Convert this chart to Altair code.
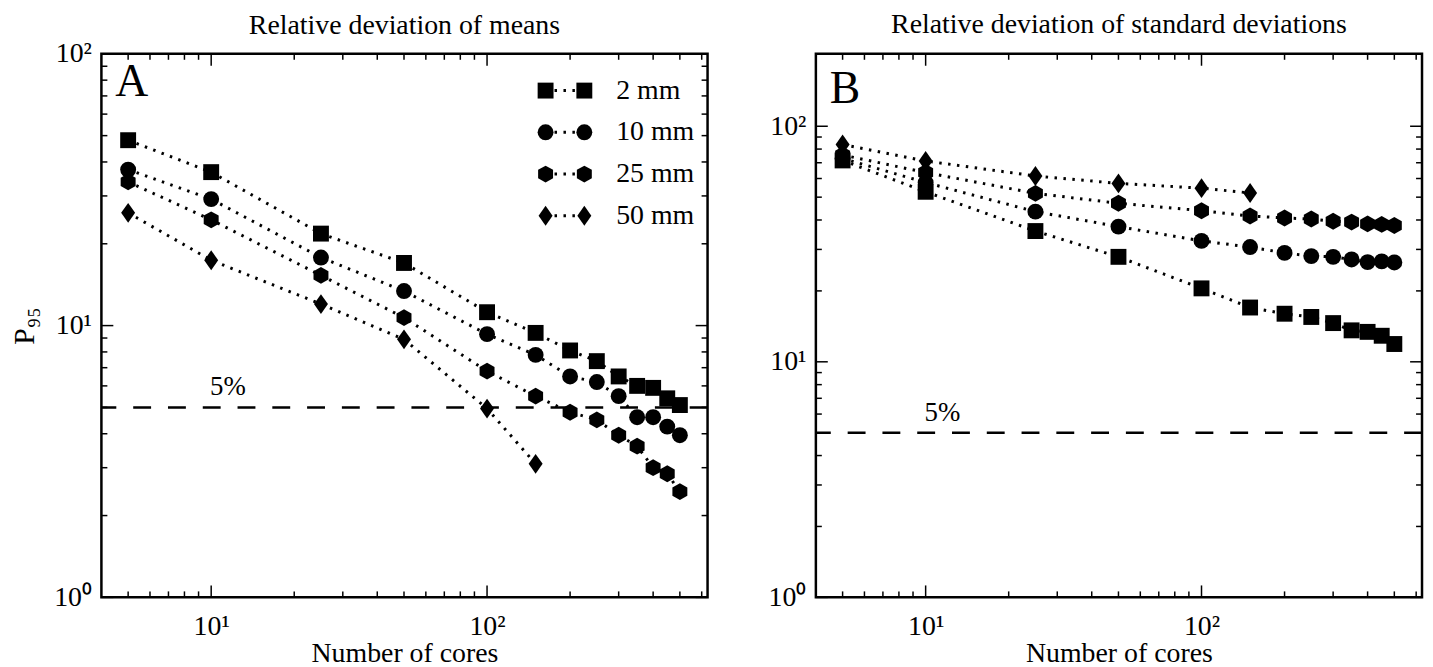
import altair as alt
import pandas as pd

# ---------------- data ----------------
cores = [5, 10, 25, 50, 100, 150, 200, 250, 300, 350, 400, 450, 500]
series = ["2 mm", "10 mm", "25 mm", "50 mm"]

# Panel A: relative deviation of means (P95)
mean_2mm = [48.1, 36.7, 21.8, 17.0, 11.2, 9.4, 8.1, 7.4, 6.5, 6.0, 5.9, 5.4, 5.1]
mean_10mm = [37.5, 29.2, 17.8, 13.4, 9.3, 7.8, 6.5, 6.2, 5.5, 4.6, 4.6, 4.25, 3.95]
mean_25mm = [33.8, 24.5, 15.3, 10.7, 6.8, 5.5, 4.8, 4.5, 3.95, 3.6, 3.0, 2.85, 2.45]
mean_50mm = [26.0, 17.4, 12.0, 8.9, 4.95, 3.1]

# Panel B: relative deviation of standard deviations (P95)
std_2mm = [71.6, 52.7, 35.9, 27.9, 20.5, 17.0, 16.0, 15.5, 14.6, 13.6, 13.4, 12.9, 11.9]
std_10mm = [73.0, 57.7, 43.4, 37.5, 32.6, 30.7, 29.0, 28.1, 27.9, 27.2, 26.5, 26.7, 26.4]
std_25mm = [75.5, 63.6, 51.9, 47.1, 43.8, 41.6, 40.8, 40.4, 39.5, 39.2, 38.5, 38.3, 37.9]
std_50mm = [83.7, 71.2, 61.5, 57.2, 54.6, 52.1]

threshold = [5]
threshold_label = ["5%"]
threshold_label_x = [11.5]

x_major = [10, 100]
x_minor = [5, 6, 7, 8, 9, 20, 30, 40, 50, 60, 70, 80, 90, 200, 300, 400, 500, 600]
y_major = [1, 10, 100]
y_minor = [2, 3, 4, 5, 6, 7, 8, 9, 20, 30, 40, 50, 60, 70, 80, 90]

x_domain = [4, 630]
yA_domain = [1, 100]
yB_domain = [1, 203]

# ---------------- styling ----------------
FONT = "Liberation Serif"
W, H = 610, 547
MSIZE = 256
shapes = [
    "square",
    "circle",
    "M0,-1.06L0.94,-0.53L0.94,0.53L0,1.06L-0.94,0.53L-0.94,-0.53Z",
    "M0,-1.25L0.88,0L0,1.25L-0.88,0Z",
]
MAJ, MIN = 12, 6
LEG_Y0, LEG_Y1 = 37, 163
LEG_X1, LEG_X2, LEG_TX = 447, 486, 518

label_expr = "datum.value == 1 ? '10\u2070' : datum.value == 10 ? '10\u00b9' : '10\u00b2'"


def make_df(vals_list):
    rows = []
    for name, vals in zip(series, vals_list):
        for c, v in zip(cores, vals):
            rows.append({"cores": c, "value": v, "series": name})
    return pd.DataFrame(rows)


def panel(vals_list, ydom, title, title_offset, letter, letter_y, legend, ytitle):
    xs = alt.Scale(type="log", domain=x_domain)
    ys = alt.Scale(type="log", domain=ydom)
    shape_scale = alt.Scale(domain=series, range=shapes)
    df = make_df(vals_list)
    base = alt.Chart(df)
    xax = alt.Axis(values=[10, 100], labelExpr=label_expr, ticks=False, domain=False,
                   grid=False, labelFontSize=28, labelFont=FONT, labelPadding=15,
                   title="Number of cores", titleFontSize=28, titleFont=FONT,
                   titleFontWeight="normal", titlePadding=0, labelColor="black", titleColor="black")
    yargs = dict(values=[1, 10, 100], labelExpr=label_expr, ticks=False, domain=False,
                 grid=False, labelFontSize=28, labelFont=FONT, labelPadding=10,
                 labelColor="black")
    if ytitle:
        yargs.update(title=ytitle, titleFontSize=30, titleFont=FONT, titleFontWeight="normal",
                     titlePadding=14, titleColor="black")
    else:
        yargs.update(title=None)
    yax = alt.Axis(**yargs)

    lines = base.mark_line(color="black", strokeDash=[2.5, 6.5], strokeWidth=3).encode(
        x=alt.X("cores:Q", scale=xs, axis=xax),
        y=alt.Y("value:Q", scale=ys, axis=yax),
        detail="series:N",
    )
    pts = base.mark_point(filled=True, size=MSIZE, opacity=1, color="black").encode(
        x=alt.X("cores:Q", scale=xs, axis=None),
        y=alt.Y("value:Q", scale=ys, axis=None),
        shape=alt.Shape("series:N", scale=shape_scale, legend=None),
    )
    tdf = pd.DataFrame({"y": threshold, "x": threshold_label_x, "label": threshold_label})
    hline = alt.Chart(tdf).mark_rule(color="black", strokeDash=[18, 17], strokeWidth=2.5).encode(
        y=alt.Y("y:Q", scale=ys, axis=None))
    htext = alt.Chart(tdf).mark_text(font=FONT, fontSize=27, baseline="bottom", dy=-6,
                                     color="black").encode(
        x=alt.X("x:Q", scale=xs, axis=None), y=alt.Y("y:Q", scale=ys, axis=None), text="label:N")

    layers = [lines, hline, pts, htext]

    for vals, ln in [(x_major, MAJ), (x_minor, MIN)]:
        src = alt.Chart(pd.DataFrame({"v": vals}))
        layers.append(src.mark_rule(color="black", strokeWidth=1.5).encode(
            x=alt.X("v:Q", scale=xs, axis=None), y=alt.value(H), y2=alt.value(H - ln)))
        layers.append(src.mark_rule(color="black", strokeWidth=1.5).encode(
            x=alt.X("v:Q", scale=xs, axis=None), y=alt.value(0), y2=alt.value(ln)))
    for vals, ln in [(y_major, MAJ), (y_minor, MIN)]:
        src = alt.Chart(pd.DataFrame({"v": vals}))
        layers.append(src.mark_rule(color="black", strokeWidth=1.5).encode(
            y=alt.Y("v:Q", scale=ys, axis=None), x=alt.value(0), x2=alt.value(ln)))
        layers.append(src.mark_rule(color="black", strokeWidth=1.5).encode(
            y=alt.Y("v:Q", scale=ys, axis=None), x=alt.value(W), x2=alt.value(W - ln)))

    ldf = pd.DataFrame({"t": [letter]})
    layers.append(alt.Chart(ldf).mark_text(font=FONT, fontSize=46, align="left", baseline="top",
                                           color="black").encode(
        x=alt.value(14), y=alt.value(letter_y), text="t:N"))

    if legend:
        leg = alt.Chart(pd.DataFrame({"series": series}))
        ly = alt.Y("series:N", scale=alt.Scale(type="point", domain=series,
                                               range=[LEG_Y0, LEG_Y1], padding=0), axis=None)
        layers.append(leg.mark_rule(color="black", strokeDash=[2.5, 6.5], strokeWidth=3).encode(
            x=alt.value(LEG_X1), x2=alt.value(LEG_X2), y=ly))
        for xx in (LEG_X1, LEG_X2):
            layers.append(leg.mark_point(filled=True, size=MSIZE, opacity=1, color="black").encode(
                x=alt.value(xx), y=ly,
                shape=alt.Shape("series:N", scale=shape_scale, legend=None)))
        layers.append(leg.mark_text(font=FONT, fontSize=28, align="left", baseline="middle",
                                    color="black").encode(
            x=alt.value(LEG_TX), y=ly, text="series:N"))

    return alt.layer(*layers).resolve_scale(x="independent", y="independent").properties(
        width=W, height=H,
        title=alt.TitleParams(title, font=FONT, fontSize=28, fontWeight="normal", color="black",
                              anchor="middle", frame="group", offset=title_offset),
    )


left = panel([mean_2mm, mean_10mm, mean_25mm, mean_50mm], yA_domain,
             "Relative deviation of means", 0, "A", 6, True, "P\u2089\u2085")
right = panel([std_2mm, std_10mm, std_25mm, std_50mm], yB_domain,
              "Relative deviation of standard deviations", 14, "B", 13, False, None)

chart = alt.hconcat(left, right, spacing=56).properties(
    padding={"left": 0, "top": 0, "right": 0, "bottom": 0}
).configure_view(stroke="black", strokeWidth=2.5)

chart.save("out.html", embed_options={"renderer": "svg", "actions": False})
